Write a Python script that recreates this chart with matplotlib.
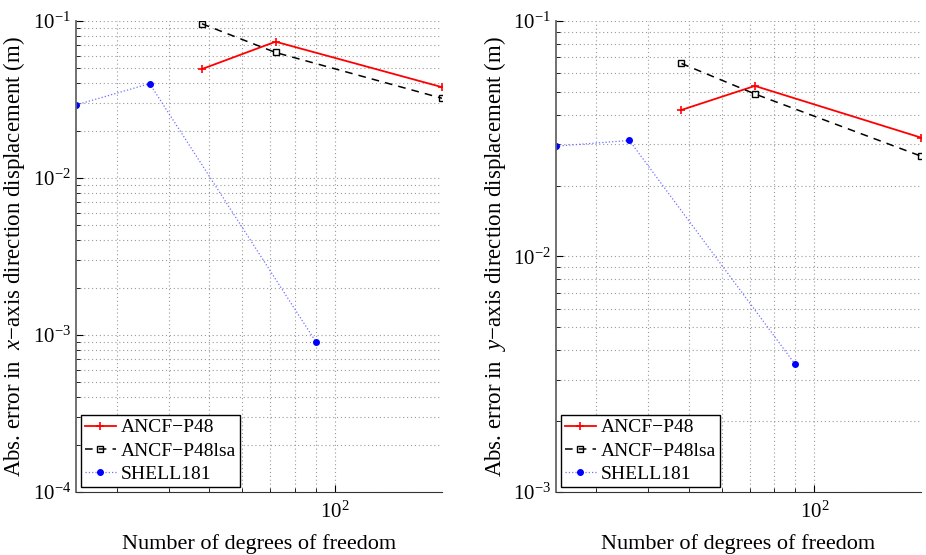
import matplotlib
matplotlib.use("Agg")
import matplotlib.pyplot as plt
from matplotlib.ticker import LogLocator, NullFormatter

plt.rcParams['font.family'] = ['Liberation Serif', 'DejaVu Serif']
plt.rcParams['mathtext.fontset'] = 'custom'
plt.rcParams['mathtext.rm'] = 'Liberation Serif'
plt.rcParams['mathtext.it'] = 'Liberation Serif:italic'

# degrees of freedom
dof_ancf = [48, 72, 180]
dof_shell = [24, 36, 90]

# absolute error, x direction
err_x_ancf = [0.0494, 0.0738, 0.0379]
err_x_lsa = [0.096, 0.063, 0.0322]
err_x_shell = [0.0292, 0.0399, 0.000901]

# absolute error, y direction
err_y_ancf = [0.0419, 0.053, 0.032]
err_y_lsa = [0.066, 0.049, 0.0267]
err_y_shell = [0.0294, 0.0311, 0.00348]

labels = ['ANCF\u2212P48', 'ANCF\u2212P48lsa', 'SHELL181']

fig = plt.figure(figsize=(9.26, 5.55), dpi=100)
ax1 = fig.add_axes([0.0821, 0.1135, 0.3952, 0.8487])
ax2 = fig.add_axes([0.6004, 0.1135, 0.3939, 0.8487])


def draw(ax, ea, el, es, ylo, comp):
    ax.loglog(dof_ancf, ea, '-', color='red', lw=1.3, marker='+', ms=6, mew=1.2, label=labels[0])
    ax.loglog(dof_ancf, el, '--', color='black', lw=1.1, marker='s', ms=4, mfc='none', mew=1.0,
              dashes=(5, 4), label=labels[1])
    ax.loglog(dof_shell, es, ':', color='#7070ff', lw=0.9, marker='.', ms=8, mfc='blue', mec='blue',
              label=labels[2])
    ax.set_xlim(24, 180)
    ax.set_ylim(ylo, 1e-1)
    ax.xaxis.set_minor_locator(LogLocator(base=10, subs=range(2, 10)))
    ax.xaxis.set_minor_formatter(NullFormatter())
    ax.yaxis.set_minor_locator(LogLocator(base=10, subs=range(2, 10)))
    ax.yaxis.set_minor_formatter(NullFormatter())
    ax.grid(True, which='both', linestyle=(0, (1, 2.5)), color='#999999', lw=0.8)
    ax.set_axisbelow(True)
    for s in ['top', 'right']:
        ax.spines[s].set_visible(False)
    ax.spines['left'].set_color('#666666')
    ax.spines['left'].set_linewidth(1.3)
    ax.spines['bottom'].set_color('#333333')
    ax.tick_params(which='both', direction='in', labelsize=15, top=False, right=False)
    ax.tick_params(axis='x', pad=7)
    ax.tick_params(which='major', length=5)
    ax.tick_params(which='minor', length=3)
    ax.set_xlabel('Number of degrees of freedom', fontsize=16, labelpad=8)
    ax.set_ylabel('Abs. error in  $' + comp + '$\u2212axis direction displacement (m)', fontsize=16.5)
    leg = ax.legend(loc='lower left', fontsize=14, fancybox=False, framealpha=1, edgecolor='black',
                    borderpad=0.2, labelspacing=0.3, handlelength=1.6, handletextpad=0.25,
                    borderaxespad=0.25)
    leg.get_frame().set_linewidth(1.0)


draw(ax1, err_x_ancf, err_x_lsa, err_x_shell, 1e-4, 'x')
draw(ax2, err_y_ancf, err_y_lsa, err_y_shell, 1e-3, 'y')

fig.savefig('out.png', dpi=100)
